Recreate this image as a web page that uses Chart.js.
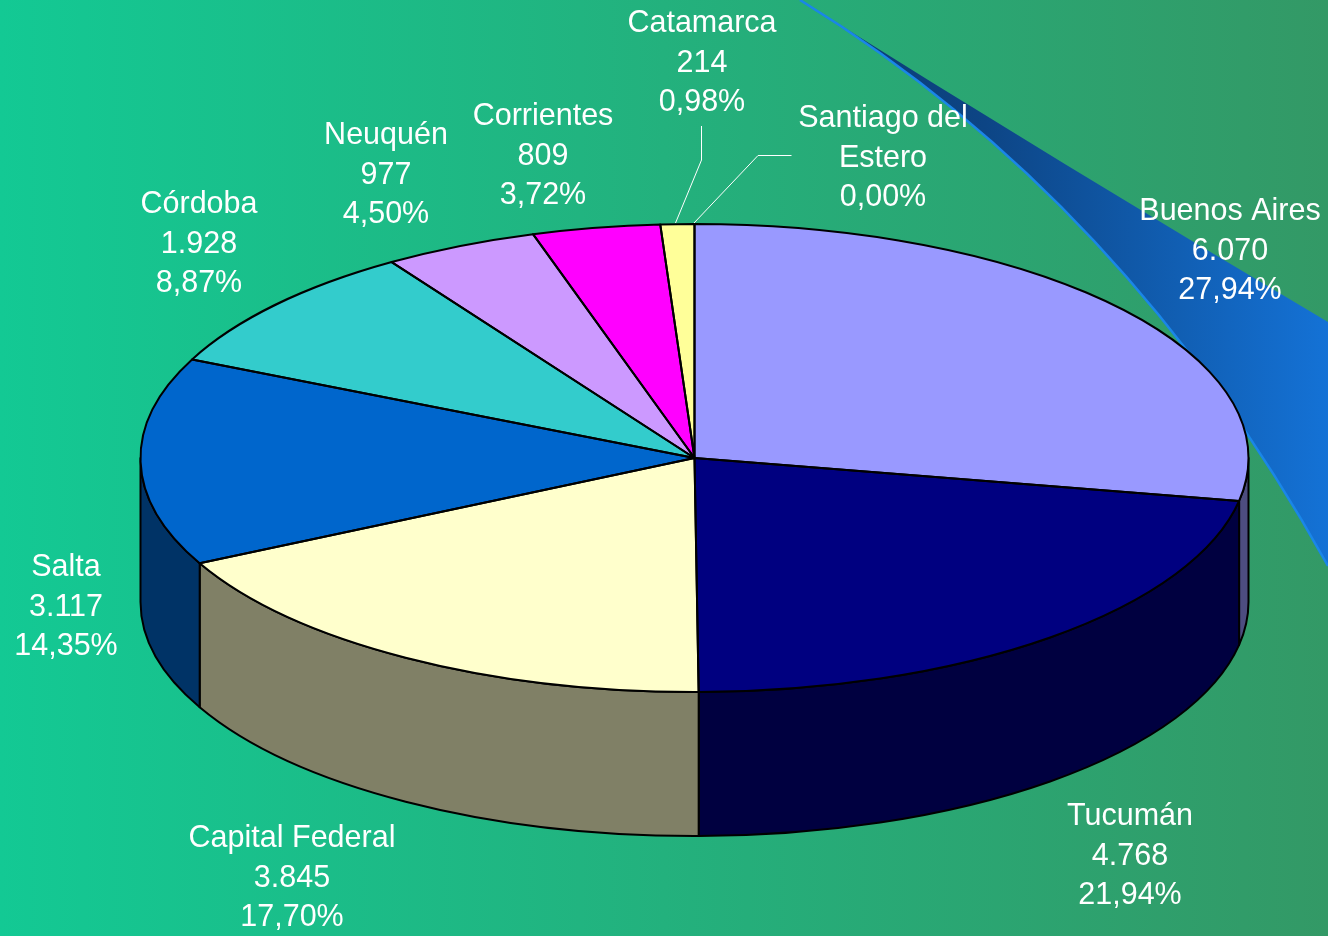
<!DOCTYPE html>
<html>
<head>
<meta charset="utf-8">
<style>html,body{margin:0;padding:0;background:#339966}canvas{display:block}</style>
<script src="https://cdn.jsdelivr.net/npm/chart.js@4"></script>
</head>
<body>
<canvas id="c" width="1328" height="936"></canvas>
<script>
const categories = ["Buenos Aires","Tucumán","Capital Federal","Salta","Córdoba","Neuquén","Corrientes","Catamarca","Santiago del Estero"];
const values = [6070,4768,3845,3117,1928,977,809,214,0];
const percents = ["27,94%","21,94%","17,70%","14,35%","8,87%","4,50%","3,72%","0,98%","0,00%"];
const topColors = ["#9999FF","#000080","#FFFFCC","#0066CC","#33CCCC","#CC99FF","#FF00FF","#FFFF99","#000000"];
const sideColors = ["#4D4D80","#000040","#808066","#003366","#1A6666","#664D80","#800080","#80804D","#000000"];

// Layout only
const pie = {cx:694.5, cy:458, rx:554, ry:234, depth:144};
const labelAnchors = [[1230,209],[1130,814],[292,836],[66,565],[199,202],[386,133],[543,114],[702,21],[883,116]];
const lineStep = 39.6;
const leaders = [
  [[701.5,126],[701.5,160],[675.5,223]],
  [[791.5,155.5],[758,155.5],[694,223]]
];

const fmt = v => String(v).replace(/\B(?=(\d{3})+$)/g,".");
function labelLines(i){
  const name = categories[i] === "Santiago del Estero" ? ["Santiago del","Estero"] : [categories[i]];
  return values[i] > 0 ? [...name, fmt(values[i]), percents[i]] : [...name, percents[i]];
}

function applyPieTransform(ctx, el){
  ctx.translate(pie.cx, pie.cy);
  ctx.scale(pie.rx/el.outerRadius, pie.ry/el.outerRadius);
  ctx.translate(-el.x, -el.y);
}

const scenery = {
  id:"scenery",
  beforeDraw(chart){
    const {ctx,width,height} = chart;
    ctx.save();
    const bg = ctx.createLinearGradient(0,0,width,0);
    bg.addColorStop(0,"#13C994");
    bg.addColorStop(1,"#339966");
    ctx.fillStyle = bg;
    ctx.fillRect(0,0,width,height);
    const sw = ctx.createLinearGradient(800,0,1328,0);
    sw.addColorStop(0,"#0A3A70");
    sw.addColorStop(0.35,"#0D4585");
    sw.addColorStop(1,"#1472D6");
    ctx.beginPath();
    ctx.moveTo(800,0);
    ctx.quadraticCurveTo(1064,166,1328,322);
    ctx.lineTo(1328,566);
    ctx.quadraticCurveTo(1125,200,800,0);
    ctx.closePath();
    ctx.fillStyle = sw;
    ctx.fill();
    ctx.beginPath();
    ctx.moveTo(1328,566);
    ctx.quadraticCurveTo(1125,200,800,0);
    ctx.strokeStyle = "#1A86E8";
    ctx.lineWidth = 2.5;
    ctx.stroke();
    ctx.restore();
  }
};

const extrude = {
  id:"extrude",
  beforeDatasetsDraw(chart){
    const ctx = chart.ctx;
    const arcs = chart.getDatasetMeta(0).data;
    arcs.forEach((a,i)=>{
      const el = a.getProps(["x","y","startAngle","endAngle","outerRadius"],true);
      const s = Math.max(el.startAngle,0), e = Math.min(el.endAngle,Math.PI);
      if (values[i] === 0 || e <= s) return;
      const d = pie.depth * el.outerRadius / pie.ry;
      ctx.save();
      applyPieTransform(ctx, el);
      ctx.beginPath();
      ctx.arc(el.x,el.y,el.outerRadius,s,e);
      ctx.arc(el.x,el.y+d,el.outerRadius,e,s,true);
      ctx.closePath();
      ctx.restore();
      ctx.fillStyle = sideColors[i];
      ctx.fill();
      ctx.strokeStyle = "#000";
      ctx.lineWidth = 2;
      ctx.lineJoin = "round";
      ctx.stroke();
    });
    ctx.save();
    applyPieTransform(ctx, arcs[0].getProps(["x","y","outerRadius"],true));
  },
  afterDatasetsDraw(chart){
    const ctx = chart.ctx;
    ctx.restore();
    chart.getDatasetMeta(0).data.forEach((a,i)=>{
      if (values[i] === 0) return;
      const el = a.getProps(["x","y","startAngle","endAngle","outerRadius"],true);
      ctx.save();
      applyPieTransform(ctx, el);
      ctx.beginPath();
      ctx.moveTo(el.x,el.y);
      ctx.arc(el.x,el.y,el.outerRadius,el.startAngle,el.endAngle);
      ctx.closePath();
      ctx.restore();
      ctx.strokeStyle = "#000";
      ctx.lineWidth = 2;
      ctx.lineJoin = "round";
      ctx.stroke();
    });
  }
};

const labels = {
  id:"labelsText",
  afterDraw(chart){
    const ctx = chart.ctx;
    ctx.save();
    ctx.strokeStyle = "#FFFFFF";
    ctx.lineWidth = 1;
    leaders.forEach(pts=>{
      ctx.beginPath();
      pts.forEach((p,k)=> k ? ctx.lineTo(p[0],p[1]) : ctx.moveTo(p[0],p[1]));
      ctx.stroke();
    });
    ctx.fillStyle = "#FFFFFF";
    ctx.font = '30.5px "Liberation Sans", Arial, sans-serif';
    ctx.textAlign = "center";
    ctx.textBaseline = "middle";
    categories.forEach((_,i)=>{
      labelLines(i).forEach((t,k)=>{
        ctx.fillText(t, labelAnchors[i][0], labelAnchors[i][1] + k*lineStep + 2.5);
      });
    });
    ctx.restore();
  }
};

new Chart(document.getElementById("c"),{
  type:"pie",
  data:{labels:categories,datasets:[{data:values,backgroundColor:topColors,borderWidth:0,clip:false}]},
  options:{
    responsive:false,
    animation:false,
    events:[],
    layout:{padding:0},
    plugins:{legend:{display:false},tooltip:{enabled:false}}
  },
  plugins:[scenery,extrude,labels]
});
</script>
</body>
</html>
